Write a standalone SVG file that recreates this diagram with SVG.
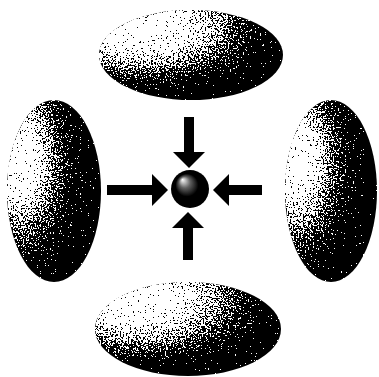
<svg xmlns="http://www.w3.org/2000/svg" width="379" height="377" viewBox="0 0 379 377">
<defs>
<radialGradient id="gH" cx="0.25" cy="0.22" r="0.85" fx="0.22" fy="0.18">
<stop offset="0" stop-color="#ffffff"/>
<stop offset="0.28" stop-color="#e2e2e2"/>
<stop offset="0.5" stop-color="#8a8a8a"/>
<stop offset="0.7" stop-color="#2a2a2a"/>
<stop offset="0.85" stop-color="#000000"/>
</radialGradient>
<radialGradient id="gV" cx="0.15" cy="0.35" r="0.85" fx="0.12" fy="0.33">
<stop offset="0" stop-color="#ffffff"/>
<stop offset="0.22" stop-color="#e0e0e0"/>
<stop offset="0.45" stop-color="#707070"/>
<stop offset="0.65" stop-color="#1c1c1c"/>
<stop offset="0.85" stop-color="#000000"/>
</radialGradient>
<radialGradient id="gS" cx="0.5" cy="0.5" r="0.5" fx="0.3" fy="0.25">
<stop offset="0" stop-color="#ffffff"/>
<stop offset="0.3" stop-color="#606060"/>
<stop offset="0.6" stop-color="#000000"/>
<stop offset="1" stop-color="#000000"/>
</radialGradient>
<filter id="stip" x="0" y="0" width="100%" height="100%" color-interpolation-filters="sRGB">
<feTurbulence type="fractalNoise" baseFrequency="0.6" numOctaves="2" seed="4" result="n0"/>
<feColorMatrix in="n0" type="matrix" values="1 0 0 0 0  1 0 0 0 0  1 0 0 0 0  0 0 0 0 1" result="n"/>
<feComposite in="SourceGraphic" in2="n" operator="arithmetic" k1="0" k2="1" k3="2" k4="-1" result="m"/>
<feComponentTransfer in="m" result="t">
<feFuncR type="discrete" tableValues="0 1"/>
<feFuncG type="discrete" tableValues="0 1"/>
<feFuncB type="discrete" tableValues="0 1"/>
<feFuncA type="discrete" tableValues="1 1"/>
</feComponentTransfer>
<feComposite in="t" in2="SourceGraphic" operator="in"/>
</filter>
<style>
.arrow{fill:#000;stroke:none}
</style>
</defs>
<rect width="379" height="377" fill="#ffffff"/>
<g id="top-node" filter="url(#stip)"><ellipse cx="191" cy="55" rx="92" ry="45" fill="url(#gH)"/></g>
<g id="left-node" filter="url(#stip)"><ellipse cx="54" cy="191" rx="47" ry="91" fill="url(#gV)"/></g>
<g id="right-node" filter="url(#stip)"><ellipse cx="331" cy="191" rx="46" ry="91" fill="url(#gV)"/></g>
<g id="bottom-node" filter="url(#stip)"><ellipse cx="188" cy="329" rx="93" ry="47" fill="url(#gH)"/></g>
<g id="center-node"><circle cx="190" cy="189" r="19" fill="url(#gS)"/></g>
<g id="connectors" class="arrow">
<polygon class="arrow" points="184,117 194,117 194,152 205,152 189,168 173,152 184,152"/>
<polygon class="arrow" points="183,260 193,260 193,228 204,228 188,212 172,228 183,228"/>
<polygon class="arrow" points="107,185 107,195 152,195 152,206 168,190 152,174 152,185"/>
<polygon class="arrow" points="262,185 262,195 229,195 229,206 213,190 229,174 229,185"/>
</g>
</svg>
